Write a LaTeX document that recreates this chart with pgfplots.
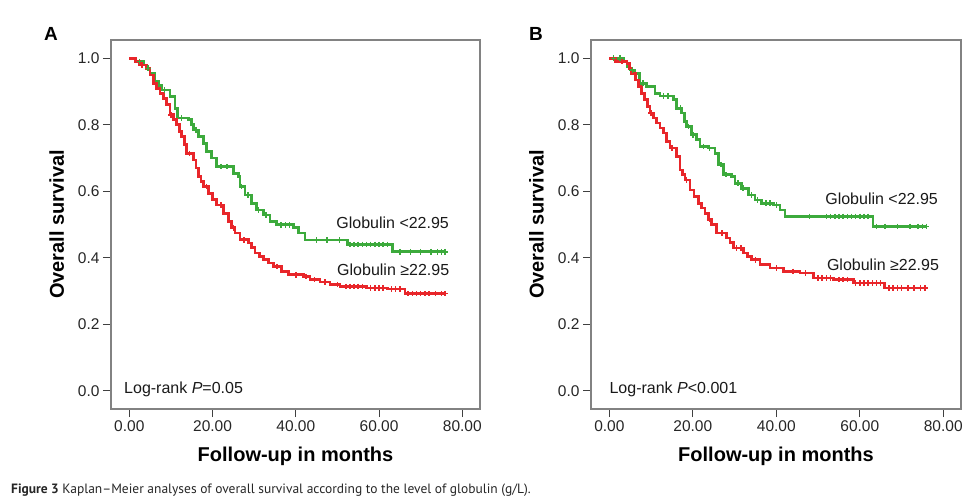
\documentclass[border=0pt]{standalone}
\usepackage{pgfplots}
\pgfplotsset{compat=1.18}
\usepackage{fontspec}
\setmainfont{Liberation Sans}
\newfontfamily\capfont{PT Sans}

\definecolor{kmred}{RGB}{232,38,42}
\definecolor{kmgreen}{RGB}{60,170,60}
\definecolor{axframe}{RGB}{130,130,130}

\tikzset{note/.style={font=\fontsize{16bp}{19bp}\selectfont, inner sep=0pt, text=black!90}}

\pgfplotsset{
  kmaxis/.style={
    scale only axis,
    height=369bp,
    xmin=-4.4, xmax=84.25,
    ymin=-0.055, ymax=1.055,
    xtick={0,20,40,60,80},
    xticklabels={0.00,20.00,40.00,60.00,80.00},
    ytick={0,0.2,0.4,0.6,0.8,1.0},
    yticklabels={0.0,0.2,0.4,0.6,0.8,1.0},
    xtick pos=lower, ytick pos=left,
    tick align=outside,
    major tick length=8bp,
    major tick style={black!75, line width=1bp},
    axis line style={axframe, line width=1.3bp},
    tick label style={font=\fontsize{15.5bp}{18bp}\selectfont, text=black!85},
    label style={font=\bfseries\fontsize{20bp}{24bp}\selectfont},
    xlabel={Follow-up in months},
    ylabel={Overall survival},
    xlabel style={at={(axis description cs:0.5,-0.1436)}, anchor=base},
    ylabel style={at={(axis description cs:-0.128,0.5)}, anchor=base},
    clip=false,
  },
  kmline/.style={const plot mark left, no marks, line width=2.7bp},
  kmcens/.style={only marks, mark=+, mark size=2.8bp, mark options={line width=1.5bp}},
}

\begin{document}
\begin{tikzpicture}
\useasboundingbox (0,0) rectangle (971bp,-502bp);

% ---------- panel A ----------
\begin{axis}[kmaxis, width=369bp, at={(111bp,-409bp)}, anchor=south west]
\addplot[kmline, kmgreen] coordinates {
 (0,1.0) (1.5,0.99) (3.4,0.98) (4.2,0.97) (5.0,0.955) (6.2,0.93) (7.0,0.918)
 (7.8,0.905) (9.8,0.885) (11.0,0.85) (11.5,0.82) (14.2,0.815) (15.0,0.80)
 (15.4,0.784) (16.6,0.764) (17.8,0.744) (18.6,0.72) (19.8,0.70) (21.0,0.674)
 (25.0,0.654) (26.2,0.644) (26.6,0.614) (27.8,0.589) (29.4,0.564) (30.6,0.544)
 (32.2,0.529) (33.8,0.509) (35.4,0.499) (39.4,0.492) (40.6,0.474) (42.2,0.453)
 (52.4,0.44) (63.2,0.418) (75.8,0.418)};
\addplot[kmcens, kmgreen] coordinates {
 (2.5,0.99) (4.5,0.97) (8.5,0.905) (12.5,0.82) (16,0.784) (22,0.674) (23.5,0.674)
 (27,0.614) (28.5,0.589) (31,0.544) (32.8,0.529) (36.5,0.499) (37.5,0.499)
 (38.5,0.499) (45,0.453) (47.5,0.453) (50.5,0.453) (53,0.44) (54,0.44) (55,0.44)
 (56,0.44) (57,0.44) (58,0.44) (59,0.44) (60,0.44) (61,0.44) (62,0.44)
 (65,0.418) (67.5,0.418) (70,0.418) (72.5,0.418) (74,0.418) (75,0.418) (75.8,0.418)};
\addplot[kmline, kmred] coordinates {
 (0,1.0) (1.5,0.99) (2.5,0.98) (4.2,0.97) (5.0,0.95) (5.8,0.925) (6.6,0.91)
 (7.4,0.895) (8.2,0.878) (9.0,0.86) (9.8,0.83) (10.6,0.815) (11.4,0.80)
 (12.0,0.78) (12.6,0.764) (13.2,0.74) (13.8,0.714) (15.4,0.694) (16.0,0.67)
 (16.6,0.644) (17.2,0.63) (17.8,0.614) (19.0,0.594) (20.0,0.575) (21.0,0.559)
 (22.6,0.534) (23.8,0.509) (24.6,0.49) (25.4,0.474) (26.6,0.454) (28.6,0.444)
 (29.4,0.43) (30.2,0.414) (31.2,0.404) (32.2,0.394) (33.4,0.384) (34.6,0.374)
 (36.6,0.359) (38.2,0.349) (41.8,0.344) (43.4,0.334) (45.8,0.327) (48.2,0.319)
 (50.6,0.314) (57.0,0.309) (62.0,0.306) (66.2,0.292) (75.8,0.292)};
\addplot[kmcens, kmred] coordinates {
 (3,0.98) (10,0.83) (14.5,0.714) (18.5,0.614) (22,0.559) (25,0.49) (27.5,0.454)
 (35.5,0.374) (40,0.349) (42.5,0.344) (44.5,0.334) (47,0.327) (50,0.319)
 (52,0.314) (53,0.314) (54,0.314) (55,0.314) (56,0.314) (58,0.309) (59,0.309)
 (60,0.309) (61,0.309) (63,0.306) (64,0.306) (65,0.306) (67,0.292) (68,0.292)
 (69,0.292) (70,0.292) (71,0.292) (72,0.292) (73.5,0.292) (75,0.292) (75.8,0.292)};
\node[note, anchor=west] at (axis cs:49.7,0.505) {Globulin <22.95};
\node[note, anchor=west] at (axis cs:49.9,0.363) {Globulin ≥22.95};
\node[note, anchor=west] at (axis cs:-1.27,0.004) {Log-rank \textit{P}=0.05};
\end{axis}

% ---------- panel B ----------
\begin{axis}[kmaxis, width=370bp, at={(591bp,-409bp)}, anchor=south west]
\addplot[kmline, kmgreen] coordinates {
 (0,1.0) (3.35,0.99) (4.2,0.975) (4.95,0.965) (6.1,0.955) (7.3,0.925) (8.9,0.915)
 (10.9,0.895) (12.1,0.887) (15.3,0.875) (16.1,0.85) (17.3,0.835) (18.0,0.81)
 (18.5,0.795) (19.7,0.77) (20.9,0.755) (21.7,0.735) (23.7,0.73) (25.3,0.714)
 (26.1,0.68) (27.3,0.65) (29.3,0.644) (30.1,0.624) (31.7,0.609) (33.3,0.589)
 (34.9,0.574) (36.5,0.564) (39.3,0.559) (40.9,0.544) (42.1,0.524) (63.2,0.494)
 (76,0.494)};
\addplot[kmcens, kmgreen] coordinates {
 (1,1.0) (2.5,1.0) (5.5,0.965) (8,0.925) (13,0.887) (14,0.887) (17,0.85)
 (19,0.795) (20,0.77) (22.5,0.735) (24,0.73) (26.8,0.68) (28,0.65) (30.8,0.624)
 (32,0.609) (34,0.589) (35.5,0.574) (37.5,0.564) (38.5,0.564) (40,0.559)
 (48,0.524) (52,0.524) (53,0.524) (54,0.524) (55,0.524) (56,0.524) (57,0.524)
 (58,0.524) (59,0.524) (60,0.524) (61,0.524) (62,0.524) (64,0.494) (66,0.494)
 (69,0.494) (72,0.494) (74,0.494) (75,0.494) (76,0.494)};
\addplot[kmline, kmred] coordinates {
 (0,1.0) (1.5,0.99) (4.2,0.985) (4.8,0.97) (5.35,0.955) (6.2,0.935) (6.95,0.915)
 (7.7,0.895) (8.5,0.875) (9.1,0.855) (9.7,0.835) (10.5,0.82) (11.3,0.805)
 (12.1,0.79) (12.9,0.775) (13.7,0.75) (14.5,0.73) (16.1,0.704) (16.9,0.664)
 (17.5,0.65) (18.1,0.634) (19.3,0.604) (20.3,0.585) (21.3,0.564) (22.1,0.55)
 (22.9,0.534) (23.7,0.515) (24.5,0.499) (25.7,0.474) (28.1,0.459) (28.9,0.445)
 (29.7,0.429) (32.1,0.414) (33.1,0.404) (34.1,0.394) (36.1,0.379) (38.5,0.369)
 (41.7,0.359) (45.7,0.354) (48.9,0.339) (53.7,0.334) (58.5,0.324) (66.0,0.309)
 (75.6,0.309)};
\addplot[kmcens, kmred] coordinates {
 (3,0.99) (10,0.835) (15,0.73) (18.5,0.634) (24,0.515) (27,0.474) (30.5,0.429)
 (31.5,0.429) (35,0.394) (40,0.369) (44,0.359) (47,0.354) (50,0.339) (51,0.339)
 (52,0.339) (53,0.339) (55,0.334) (56,0.334) (57,0.334) (59,0.324) (60,0.324)
 (61,0.324) (62,0.324) (63,0.324) (64,0.324) (65,0.324) (67,0.309) (68,0.309)
 (69,0.309) (70,0.309) (71.5,0.309) (73,0.309) (74.5,0.309) (75.6,0.309)};
\node[note, anchor=west] at (axis cs:51.7,0.577) {Globulin <22.95};
\node[note, anchor=west] at (axis cs:52.1,0.378) {Globulin ≥22.95};
\node[note, anchor=west] at (axis cs:0,0.005) {Log-rank \textit{P}<0.001};
\end{axis}

% panel letters and caption
\node[anchor=base west, inner sep=0pt, font=\bfseries\fontsize{19bp}{22bp}\selectfont] at (44bp,-40bp) {A};
\node[anchor=base west, inner sep=0pt, font=\bfseries\fontsize{19bp}{22bp}\selectfont] at (529bp,-40bp) {B};
\node[anchor=base west, inner sep=0pt, font=\capfont\fontsize{13.5bp}{16bp}\selectfont, text=black!85] at (11bp,-493bp)
  {\textbf{Figure 3} Kaplan–Meier analyses of overall survival according to the level of globulin (g/L).};
\end{tikzpicture}
\end{document}
